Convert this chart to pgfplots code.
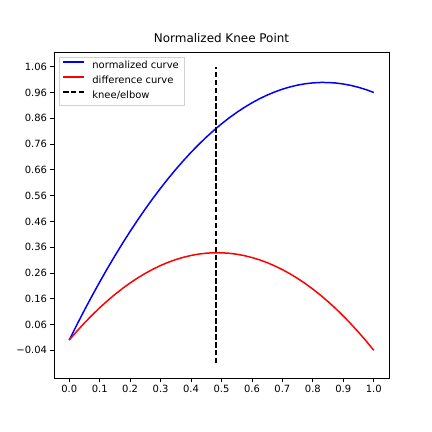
\documentclass[border=0pt]{standalone}
\usepackage{pgfplots}
\pgfplotsset{compat=1.18}
\usepackage{fontspec}
\setmainfont{DejaVu Sans}
\begin{document}
\begin{tikzpicture}
\path (0,0) rectangle (432bp,432bp);
\begin{axis}[
  at={(54bp,53.7bp)}, anchor=south west,
  scale only axis, width=335bp, height=325.6bp,
  xmin=-0.05, xmax=1.05, ymin=-0.1486, ymax=1.1144,
  axis line style={black, line width=0.8bp},
  tick align=outside, tick pos=left,
  major tick length=3.5bp,
  tick style={black, line width=0.8bp},
  xtick={0,0.1,0.2,0.3,0.4,0.5,0.6,0.7,0.8,0.9,1.0},
  xticklabels={0.0,0.1,0.2,0.3,0.4,0.5,0.6,0.7,0.8,0.9,1.0},
  ytick={-0.04,0.06,0.16,0.26,0.36,0.46,0.56,0.66,0.76,0.86,0.96,1.06},
  yticklabels={−0.04,0.06,0.16,0.26,0.36,0.46,0.56,0.66,0.76,0.86,0.96,1.06},
  tick label style={font=\fontsize{10}{12}\selectfont},
  title={Normalized Knee Point},
  title style={font=\fontsize{12}{14}\selectfont, at={(0.5,1)}, anchor=south, yshift=1bp},
  legend style={at={(0.015,0.988)}, anchor=north west, draw=black!18, fill=white,
    font=\fontsize{10}{12}\selectfont, column sep=4.7bp,
    nodes={inner sep=2.5bp, text height=7.6bp, text depth=2.2bp}},
  legend cell align=left,
  legend image code/.code={\draw[#1] (0bp,4bp) -- (21.5bp,4bp);},
]
\addplot[color=blue, line width=1.5bp] coordinates {
(0.00,0.0000) (0.025,0.0589) (0.05,0.1161) (0.075,0.1714) (0.10,0.2250) (0.125,0.2767) (0.15,0.3267) (0.175,0.3749) (0.20,0.4213)
(0.225,0.4659) (0.25,0.5087) (0.275,0.5497) (0.30,0.5889) (0.325,0.6264) (0.35,0.6620) (0.375,0.6958) (0.40,0.7279) (0.425,0.7582) (0.45,0.7867)
(0.475,0.8134) (0.50,0.8383) (0.525,0.8614) (0.55,0.8827) (0.575,0.9022) (0.60,0.9199) (0.625,0.9359) (0.65,0.9500) (0.675,0.9623) (0.70,0.9729)
(0.725,0.9817) (0.75,0.9887) (0.775,0.9939) (0.80,0.9973) (0.825,0.9989) (0.85,0.9987) (0.875,0.9968) (0.90,0.9930) (0.925,0.9874) (0.95,0.9801)
(0.975,0.9710) (1.00,0.9600)};
\addlegendentry{normalized curve}
\addplot[color=red, line width=1.5bp] coordinates {
(0.00,0.0000) (0.025,0.0339) (0.05,0.0661) (0.075,0.0964) (0.10,0.1250) (0.125,0.1517) (0.15,0.1767) (0.175,0.1999) (0.20,0.2213)
(0.225,0.2409) (0.25,0.2587) (0.275,0.2747) (0.30,0.2889) (0.325,0.3014) (0.35,0.3120) (0.375,0.3208) (0.40,0.3279) (0.425,0.3332) (0.45,0.3367)
(0.475,0.3384) (0.50,0.3383) (0.525,0.3364) (0.55,0.3327) (0.575,0.3272) (0.60,0.3199) (0.625,0.3109) (0.65,0.3000) (0.675,0.2873) (0.70,0.2729)
(0.725,0.2567) (0.75,0.2387) (0.775,0.2189) (0.80,0.1973) (0.825,0.1739) (0.85,0.1487) (0.875,0.1218) (0.90,0.0930) (0.925,0.0624) (0.95,0.0301)
(0.975,-0.0040) (1.00,-0.0400)};
\addlegendentry{difference curve}
\addplot[color=black, line width=1.5bp, dash pattern=on 5.55bp off 2.4bp] coordinates {
(0.4825,-0.091) (0.4825,1.057)};
\addlegendentry{knee/elbow}
\end{axis}
\end{tikzpicture}
\end{document}
